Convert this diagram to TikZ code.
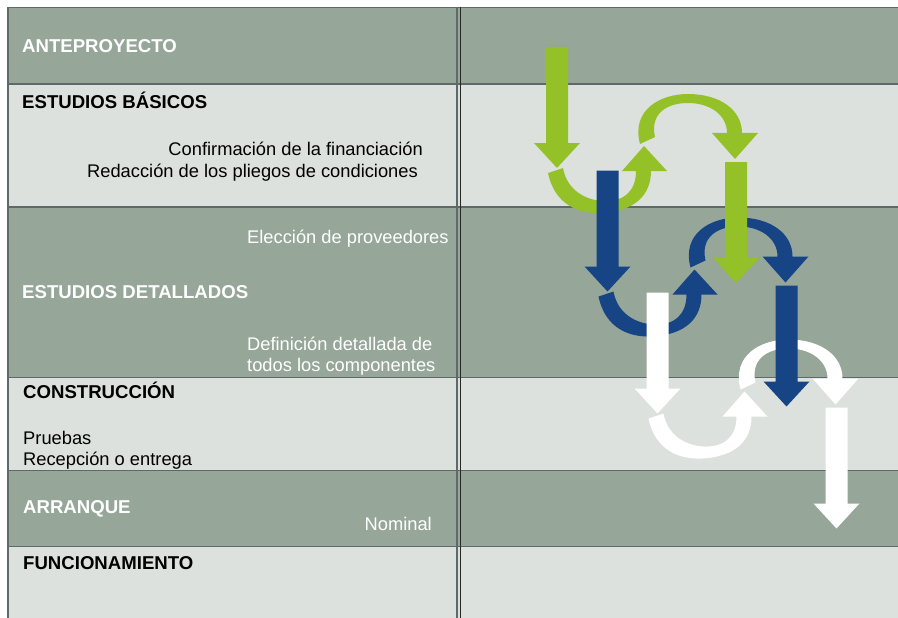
\documentclass[tikz,border=0pt]{standalone}
\usepackage{fontspec}
\setmainfont{Liberation Sans}
\definecolor{rowdark}{HTML}{96A699}
\definecolor{rowlight}{HTML}{DCE1DD}
\definecolor{gridline}{HTML}{5E6969}
\definecolor{agreen}{HTML}{94C128}
\definecolor{ablue}{HTML}{164485}
\definecolor{awhite}{HTML}{FFFFFF}
\newcommand\myStraight[3]{%
  \fill[#3] (#1-11,#2) -- (#1+11,#2) -- (#1+11,#2+96) -- (#1+23,#2+96) --
    (#1,#2+121) -- (#1-23,#2+96) -- (#1-11,#2+96) -- cycle;}
\tikzset{
  darkrow/.style={fill=rowdark},
  lightrow/.style={fill=rowlight},
  grid/.style={draw=gridline, line width=1.2pt},
  title/.style={font=\bfseries\fontsize{18.6}{21}\selectfont, inner sep=0pt, anchor=base west},
  body/.style={font=\fontsize{18.3}{21}\selectfont, inner sep=0pt},
}
\begin{document}
\begin{tikzpicture}[x=1pt,y=-1pt]
\useasboundingbox (0,0) rectangle (898,618);
% rows
\fill[darkrow]  (8,7.5)   rectangle (898,84);
\fill[lightrow] (8,84)    rectangle (898,207);
\fill[darkrow]  (8,207)   rectangle (898,377.5);
\fill[lightrow] (8,377.5) rectangle (898,470.5);
\fill[darkrow]  (8,470.5) rectangle (898,546.5);
\fill[lightrow] (8,546.5) rectangle (898,618);
% grid
\foreach \yy in {7.5,84,207,377.5,470.5,546.5} \draw[grid] (8,\yy) -- (898,\yy);
\draw[grid] (8,7.5) -- (8,618);
\draw[grid] (457,7.5) -- (457,618);
\draw[line width=1.2pt, draw=black!85] (460.5,7.5) -- (460.5,618);
% texts
\node[title, text=white] (ante) at (22,52.5) {ANTEPROYECTO};
\node[title, text=black] (basic) at (22,108.5) {ESTUDIOS BÁSICOS};
\node[body, anchor=base east] (conf) at (423,156) {Confirmación de la financiación};
\node[body, anchor=base east] (reda) at (418,177) {Redacción de los pliegos de condiciones};
\node[body, anchor=base west, text=white] (elec) at (247,243) {Elección de proveedores};
\node[title, text=white] (detail) at (22,298) {ESTUDIOS DETALLADOS};
\node[body, anchor=base west, text=white] (defi) at (247,350) {Definición detallada de};
\node[body, anchor=base west, text=white] (todo) at (247,371) {todos los componentes};
\node[title, text=black] (constr) at (23,398) {CONSTRUCCIÓN};
\node[body, anchor=base west] (prue) at (23,444) {Pruebas};
\node[body, anchor=base west] (rece) at (23,465) {Recepción o entrega};
\node[title, text=white] (arra) at (23,513) {ARRANQUE};
\node[body, anchor=base east, text=white] (nomi) at (432,530) {Nominal};
\node[title, text=black] (func) at (23,569) {FUNCIONAMIENTO};
% curved arrows
\foreach \dx/\dy/\c in {0/0/agreen, 50.5/123.5/ablue, 100.5/245.5/awhite} {
  \begin{scope}[shift={(\dx,\dy)}]
    % U-shaped arrow
    \fill[\c] (548,173) .. controls (555,206) and (580,214) .. (602,213)
      .. controls (635,211) and (651,195) .. (651,171)
      -- (667,171) -- (644,146) -- (622,171) -- (636,171)
      .. controls (636,190) and (625,202) .. (603,201)
      .. controls (585,200) and (567,190) .. (563,168) -- cycle;
    % top arc arrow
    \fill[\c] (640,144) .. controls (631,110) and (660,94) .. (688,94)
      .. controls (720,94) and (742,110) .. (742,133)
      -- (758,133) -- (735,159) -- (712,133) -- (727,133)
      .. controls (727,115) and (710,103) .. (688,103)
      .. controls (665,103) and (650,115) .. (655,137) -- cycle;
  \end{scope}
}
% straight arrows
\foreach \dx/\dy/\c in {0/0/agreen, 50.5/123.5/ablue, 100.5/245.5/awhite} {
  \begin{scope}[shift={(\dx,\dy)}]
    \myStraight{557}{47}{\c}
    \myStraight{736}{162}{\c}
  \end{scope}
}
\end{tikzpicture}
\end{document}
